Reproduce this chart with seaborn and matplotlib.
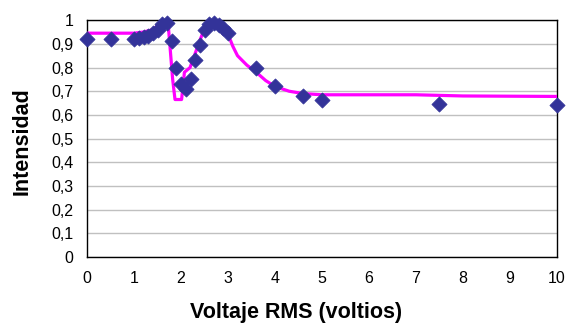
import matplotlib
matplotlib.use("Agg")
import matplotlib.pyplot as plt
import seaborn as sns
import pandas as pd

# Measured points (diamonds)
volt_pts = [0.0, 0.5, 1.0, 1.1, 1.2, 1.3, 1.4, 1.5, 1.6, 1.7, 1.8, 1.9, 2.0, 2.1,
            2.2, 2.3, 2.4, 2.5, 2.6, 2.7, 2.8, 2.9, 3.0, 3.6, 4.0, 4.6, 5.0, 7.5, 10.0]
int_pts = [0.92, 0.92, 0.92, 0.925, 0.93, 0.935, 0.945, 0.96, 0.985, 0.99, 0.91, 0.80, 0.73, 0.71,
           0.75, 0.83, 0.895, 0.96, 0.985, 0.99, 0.98, 0.965, 0.945, 0.80, 0.72, 0.68, 0.663, 0.644, 0.643]

# Fitted curve (magenta)
volt_fit = [0.0, 1.0, 1.2, 1.4, 1.55, 1.65, 1.73, 1.82, 1.87, 2.01, 2.07, 2.19, 2.3, 2.4,
            2.5, 2.6, 2.7, 2.8, 2.9, 3.0, 3.1, 3.2, 3.4, 3.6, 3.8, 4.0, 4.3, 4.6, 5.0,
            6.0, 7.0, 8.0, 10.0]
int_fit = [0.945, 0.945, 0.95, 0.96, 0.985, 1.0, 0.97, 0.75, 0.665, 0.665, 0.78, 0.80, 0.86, 0.915,
           0.965, 0.99, 1.0, 0.99, 0.97, 0.94, 0.89, 0.85, 0.81, 0.78, 0.745, 0.72, 0.70, 0.69, 0.685,
           0.685, 0.685, 0.68, 0.678]

x_ticks = [0, 1, 2, 3, 4, 5, 6, 7, 8, 9, 10]
y_ticks = [0, 0.1, 0.2, 0.3, 0.4, 0.5, 0.6, 0.7, 0.8, 0.9, 1.0]
y_tick_labels = ["0", "0,1", "0,2", "0,3", "0,4", "0,5", "0,6", "0,7", "0,8", "0,9", "1"]

sns.set_theme(style="white")
plt.rcParams["font.family"] = ["Liberation Sans", "DejaVu Sans"]

fig = plt.figure(figsize=(5.66, 3.25), dpi=100)
ax = fig.add_axes([0.154, 0.209, 0.830, 0.729])

df_fit = pd.DataFrame({"v": volt_fit, "i": int_fit})
df_pts = pd.DataFrame({"v": volt_pts, "i": int_pts})

sns.lineplot(data=df_fit, x="v", y="i", sort=False, estimator=None,
             color="#ff00ff", linewidth=2.3, ax=ax, zorder=3)
sns.scatterplot(data=df_pts, x="v", y="i", marker="D", s=60, color="#333399",
                edgecolor="#333399", linewidth=0.5, ax=ax, zorder=4, clip_on=False)

ax.set_xlim(0, 10)
ax.set_ylim(0, 1)
ax.set_xticks(x_ticks)
ax.set_xticklabels([str(t) for t in x_ticks])
ax.set_yticks(y_ticks)
ax.set_yticklabels(y_tick_labels)
ax.yaxis.grid(True, color="#c0c0c0", linewidth=1)
ax.xaxis.grid(False)
ax.set_axisbelow(True)

for s in ax.spines.values():
    s.set_color("black")
    s.set_linewidth(1)

ax.tick_params(axis="both", which="major", direction="out", length=4, width=1,
               color="black", labelsize=11.5, labelcolor="black", pad=6)
ax.set_xlabel("Voltaje RMS (voltios)", fontsize=15.5, fontweight="bold", color="black")
ax.set_ylabel("Intensidad", fontsize=15.5, fontweight="bold", color="black")
ax.xaxis.set_label_coords(0.445, -0.19)
ax.yaxis.set_label_coords(-0.117, 0.49)

fig.savefig("out.png", dpi=100)
